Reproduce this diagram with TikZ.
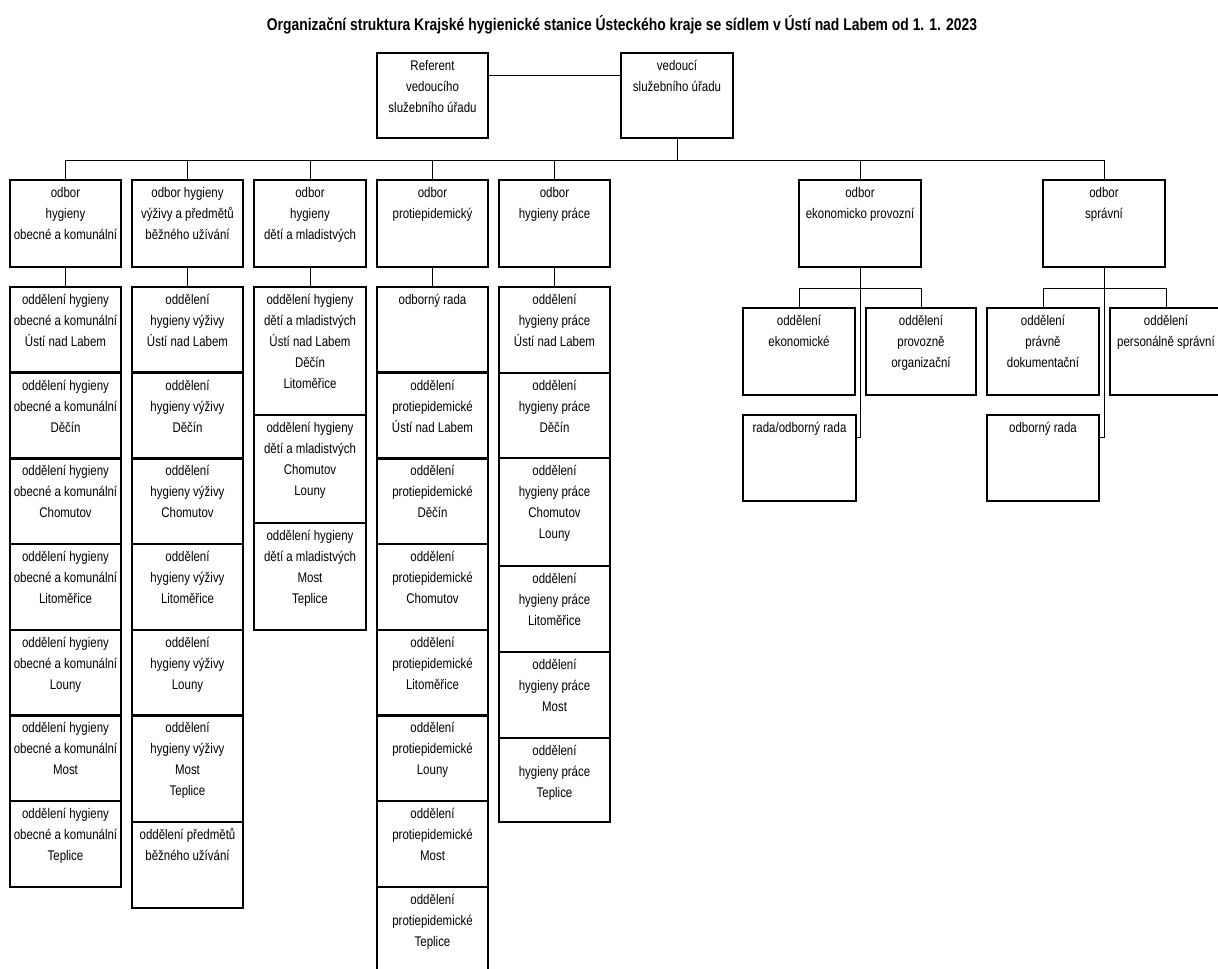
\documentclass[tikz,border=0pt]{standalone}
\usepackage{fontspec}
\setmainfont{Liberation Sans}[FakeStretch=0.82]
\newcommand{\orgfont}{\fontsize{10.5}{15.75}\selectfont}

\tikzset{every picture/.style={line width=0.75pt}}
\tikzset{
  orgbox/.style 2 args={draw, line width=1.9pt, inner sep=0pt, outer sep=0pt, anchor=north west, minimum width={#1*0.75pt}, minimum height={#2*0.75pt}},
  orgtext/.style={anchor=north, align=center, inner sep=0pt, font=\orgfont},
  link/.style={line width=0.6pt}
}

\begin{document}
\begin{tikzpicture}[x=0.75pt,y=0.75pt,yscale=-1,xscale=1]
\path[fill=white, use as bounding box] (0,0) rectangle (1218,969);

%Title
\node[font=\fontsize{12.7}{15}\selectfont\bfseries] (title) at (622,25) {Organizační struktura Krajské hygienické stanice Ústeckého kraje se sídlem v Ústí nad Labem od 1. 1. 2023};

%Top boxes
\node[orgbox={111}{85}] (ref) at (377,53) {};
\node[orgtext] (ref-t) at ([yshift=1.7pt]ref.north) {\strut Referent\\vedoucího\\služebního úřadu};
\node[orgbox={112}{85}] (ved) at (621,53) {};
\node[orgtext] (ved-t) at ([yshift=1.7pt]ved.north) {\strut vedoucí\\služebního úřadu};

%Odbor boxes
\node[orgbox={111}{87}] (o1) at (10,180) {};
\node[orgtext] (o1-t) at ([yshift=1.7pt]o1.north) {\strut odbor\\hygieny\\obecné a komunální};
\node[orgbox={111}{87}] (o2) at (132,180) {};
\node[orgtext] (o2-t) at ([yshift=1.7pt]o2.north) {\strut odbor hygieny\\výživy a předmětů\\běžného užívání};
\node[orgbox={112}{87}] (o3) at (254,180) {};
\node[orgtext] (o3-t) at ([yshift=1.7pt]o3.north) {\strut odbor\\hygieny\\dětí a mladistvých};
\node[orgbox={111}{87}] (o4) at (377,180) {};
\node[orgtext] (o4-t) at ([yshift=1.7pt]o4.north) {\strut odbor\\protiepidemický};
\node[orgbox={111}{87}] (o5) at (499,180) {};
\node[orgtext] (o5-t) at ([yshift=1.7pt]o5.north) {\strut odbor\\hygieny práce};
\node[orgbox={122}{87}] (o6) at (799,180) {};
\node[orgtext] (o6-t) at ([yshift=1.7pt]o6.north) {\strut odbor\\ekonomicko provozní};
\node[orgbox={122}{87}] (o7) at (1043,180) {};
\node[orgtext] (o7-t) at ([yshift=1.7pt]o7.north) {\strut odbor\\správní};

%Column 1
\foreach \i/\town in {0/Ústí nad Labem,1/Děčín,2/Chomutov,3/Litoměřice,4/Louny,5/Most,6/Teplice}{
  \node[orgbox={111}{85.7}] (c1-\i) at (10,{287+85.7*\i}) {};
  \node[orgtext] (c1-\i-t) at ([yshift=1.7pt]c1-\i.north) {\strut oddělení hygieny\\obecné a komunální\\\town};
}

%Column 2
\foreach \i/\town in {0/Ústí nad Labem,1/Děčín,2/Chomutov,3/Litoměřice,4/Louny}{
  \node[orgbox={111}{85.7}] (c2-\i) at (132,{287+85.7*\i}) {};
  \node[orgtext] (c2-\i-t) at ([yshift=1.7pt]c2-\i.north) {\strut oddělení\\hygieny výživy\\\town};
}
\node[orgbox={111}{106.5}] (c2-5) at (132,715.5) {};
\node[orgtext] (c2-5-t) at ([yshift=1.7pt]c2-5.north) {\strut oddělení\\hygieny výživy\\Most\\Teplice};
\node[orgbox={111}{86}] (c2-6) at (132,822) {};
\node[orgtext] (c2-6-t) at ([yshift=1.7pt]c2-6.north) {\strut oddělení předmětů\\běžného užívání};

%Column 3
\foreach \i/\y/\h/\towns in {0/287/128/Ústí nad Labem\\Děčín\\Litoměřice,1/415/108/Chomutov\\Louny,2/523/107/Most\\Teplice}{
  \node[orgbox={112}{\h}] (c3-\i) at (254,\y) {};
  \node[orgtext] (c3-\i-t) at ([yshift=1.7pt]c3-\i.north) {\strut oddělení hygieny\\dětí a mladistvých\\\towns};
}

%Column 4
\node[orgbox={111}{85.7}] (c4-0) at (377,287) {};
\node[orgtext] (c4-0-t) at ([yshift=1.7pt]c4-0.north) {\strut odborný rada};
\foreach \i/\town in {1/Ústí nad Labem,2/Děčín,3/Chomutov,4/Litoměřice,5/Louny,6/Most,7/Teplice}{
  \node[orgbox={111}{85.7}] (c4-\i) at (377,{287+85.7*\i}) {};
  \node[orgtext] (c4-\i-t) at ([yshift=1.7pt]c4-\i.north) {\strut oddělení\\protiepidemické\\\town};
}

%Column 5
\foreach \i/\y/\h/\towns in {0/287/86/Ústí nad Labem,1/373/85/Děčín,2/458/108/Chomutov\\Louny,3/566/86/Litoměřice,4/652/86/Most,5/738/84/Teplice}{
  \node[orgbox={111}{\h}] (c5-\i) at (499,\y) {};
  \node[orgtext] (c5-\i-t) at ([yshift=1.7pt]c5-\i.north) {\strut oddělení\\hygieny práce\\\towns};
}

%Right side
\node[orgbox={112}{87}] (e1) at (743,308) {};
\node[orgtext] (e1-t) at ([yshift=1.7pt]e1.north) {\strut oddělení\\ekonomické};
\node[orgbox={110}{87}] (e2) at (866,308) {};
\node[orgtext] (e2-t) at ([yshift=1.7pt]e2.north) {\strut oddělení\\provozně\\organizační};
\node[orgbox={113}{86}] (r6) at (743,415) {};
\node[orgtext] (r6-t) at ([yshift=1.7pt]r6.north) {\strut rada/odborný rada};
\node[orgbox={112}{87}] (s1) at (987,308) {};
\node[orgtext] (s1-t) at ([yshift=1.7pt]s1.north) {\strut oddělení\\právně\\dokumentační};
\node[orgbox={112}{87}] (s2) at (1110,308) {};
\node[orgtext] (s2-t) at ([yshift=1.7pt]s2.north) {\strut oddělení\\personálně správní};
\node[orgbox={112}{86}] (r7) at (987,415) {};
\node[orgtext] (r7-t) at ([yshift=1.7pt]r7.north) {\strut odborný rada};

%Connectors
\coordinate (bus) at (0,160);
\draw[link] ([yshift=16.5pt]ref.north east) -- ([yshift=16.5pt]ved.north west);
\draw[link] (ved.south) -- (ved.south |- bus);
\draw[link] (o1.north |- bus) -- (o7.north |- bus);
\foreach \n in {o1,o2,o3,o4,o5,o6,o7}
  \draw[link] (\n.north) -- (\n.north |- bus);
\foreach \n/\c in {o1/c1-0,o2/c2-0,o3/c3-0,o4/c4-0,o5/c5-0}
  \draw[link] (\n.south) -- (\c.north);
\draw[link] (o6.south) |- ([yshift=16.5pt]r6.north east);
\draw[link] (e1.north) -- ++(0,-20) -| (e2.north);
\draw[link] (o7.south) |- ([yshift=16.5pt]r7.north east);
\draw[link] (s1.north) -- ++(0,-20) -| (s2.north);

\end{tikzpicture}
\end{document}
